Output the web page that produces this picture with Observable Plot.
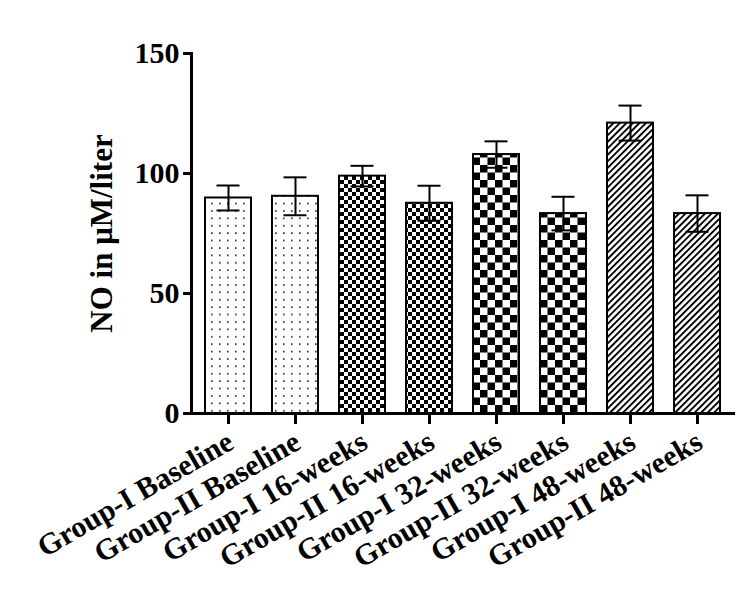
<!DOCTYPE html>
<html>
<head>
<meta charset="utf-8">
<script src="https://cdn.jsdelivr.net/npm/d3@7"></script>
<script src="https://cdn.jsdelivr.net/npm/@observablehq/plot@0.6"></script>
<style>
  html, body { margin: 0; padding: 0; background: #fff; }
  #chart svg { display: block; }
  #chart svg text { font-family: "Liberation Serif", "Times New Roman", serif; }
</style>
</head>
<body>
<div id="chart"></div>
<script>
// ---- data ----
const categories = [
  "Group-I Baseline", "Group-II Baseline",
  "Group-I 16-weeks", "Group-II 16-weeks",
  "Group-I 32-weeks", "Group-II 32-weeks",
  "Group-I 48-weeks", "Group-II 48-weeks"
];
const means  = [89.8, 90.5, 98.9, 87.6, 107.9, 83.3, 121.0, 83.3];
const errors = [5.2, 7.9, 4.3, 7.3, 5.5, 7.0, 7.3, 7.6];
const yTicks = [0, 50, 100, 150];
const yLabel = "NO in μM/liter";

// ---- styling ----
const patternIds = ["dots", "dots", "fine", "fine", "coarse", "coarse", "hatch", "hatch"];
const font = "Liberation Serif";

const rows = categories.map((c, i) => ({
  cat: c, mean: means[i], err: errors[i],
  lo: means[i] - errors[i], hi: means[i] + errors[i],
  fill: `url(#${patternIds[i]})`
}));

const svg = Plot.plot({
  width: 750,
  height: 614,
  marginLeft: 191,
  marginRight: 17,
  marginTop: 53,
  marginBottom: 201,
  style: "font-family: 'Liberation Serif', serif; background: #fff; color: #000;",
  x: { domain: categories, paddingInner: 0.32, paddingOuter: 0.16, label: null },
  y: { domain: [0, 150], label: null },
  color: { type: "identity" },
  marks: [
    Plot.barY(rows, { x: "cat", y: "mean", fill: "fill", stroke: "#000", strokeWidth: 2 }),
    Plot.ruleX(rows, { x: "cat", y1: "lo", y2: "hi", stroke: "#000", strokeWidth: 2 }),
    Plot.tickY(rows, { x: "cat", y: "hi", stroke: "#000", strokeWidth: 2, insetLeft: 11.5, insetRight: 11.5 }),
    Plot.tickY(rows, { x: "cat", y: "lo", stroke: "#000", strokeWidth: 2, insetLeft: 11.5, insetRight: 11.5 }),
    Plot.frame({ anchor: "left", stroke: "#000", strokeWidth: 3 }),
    Plot.frame({ anchor: "bottom", stroke: "#000", strokeWidth: 3 }),
    Plot.axisY({ ticks: yTicks, tickSize: 8, tickPadding: 4, strokeWidth: 3,
      fontSize: 30, fontWeight: "bold", fontFamily: font, label: null }),
    Plot.axisX({ tickSize: 11, strokeWidth: 3, tickFormat: () => "", label: null }),
    Plot.text(categories, { x: d => d, frameAnchor: "bottom", rotate: -30,
      textAnchor: "end", lineAnchor: "bottom", dx: 7, dy: 34,
      fontSize: 30, fontWeight: "bold", fontFamily: font, fill: "#000" }),
    Plot.text([yLabel], { frameAnchor: "left", rotate: -90, dx: -89,
      textAnchor: "middle", lineAnchor: "middle",
      fontSize: 31, fontWeight: "bold", fontFamily: font, fill: "#000" })
  ]
});

// pattern definitions
const defs = d3.select(svg).insert("defs", ":first-child");
const pDots = defs.append("pattern").attr("id", "dots").attr("patternUnits", "userSpaceOnUse")
  .attr("width", 8).attr("height", 7.4);
pDots.append("rect").attr("width", 8).attr("height", 7.4).attr("fill", "#fff");
pDots.append("rect").attr("x", 3).attr("y", 3).attr("width", 1.6).attr("height", 1.6).attr("fill", "#222");

const pFine = defs.append("pattern").attr("id", "fine").attr("patternUnits", "userSpaceOnUse")
  .attr("width", 8).attr("height", 8);
pFine.append("rect").attr("width", 8).attr("height", 8).attr("fill", "#fff");
pFine.append("rect").attr("x", 0).attr("y", 0).attr("width", 4).attr("height", 4).attr("fill", "#000");
pFine.append("rect").attr("x", 4).attr("y", 4).attr("width", 4).attr("height", 4).attr("fill", "#000");

const pCoarse = defs.append("pattern").attr("id", "coarse").attr("patternUnits", "userSpaceOnUse")
  .attr("width", 15).attr("height", 15);
pCoarse.append("rect").attr("width", 15).attr("height", 15).attr("fill", "#fff");
pCoarse.append("rect").attr("x", 0).attr("y", 0).attr("width", 7.5).attr("height", 7.5).attr("fill", "#000");
pCoarse.append("rect").attr("x", 7.5).attr("y", 7.5).attr("width", 7.5).attr("height", 7.5).attr("fill", "#000");

const pHatch = defs.append("pattern").attr("id", "hatch").attr("patternUnits", "userSpaceOnUse")
  .attr("width", 4.6).attr("height", 10).attr("patternTransform", "rotate(45)");
pHatch.append("rect").attr("width", 4.6).attr("height", 10).attr("fill", "#fff");
pHatch.append("rect").attr("x", 0).attr("y", 0).attr("width", 1.9).attr("height", 10).attr("fill", "#000");

document.getElementById("chart").appendChild(svg);
</script>
</body>
</html>
